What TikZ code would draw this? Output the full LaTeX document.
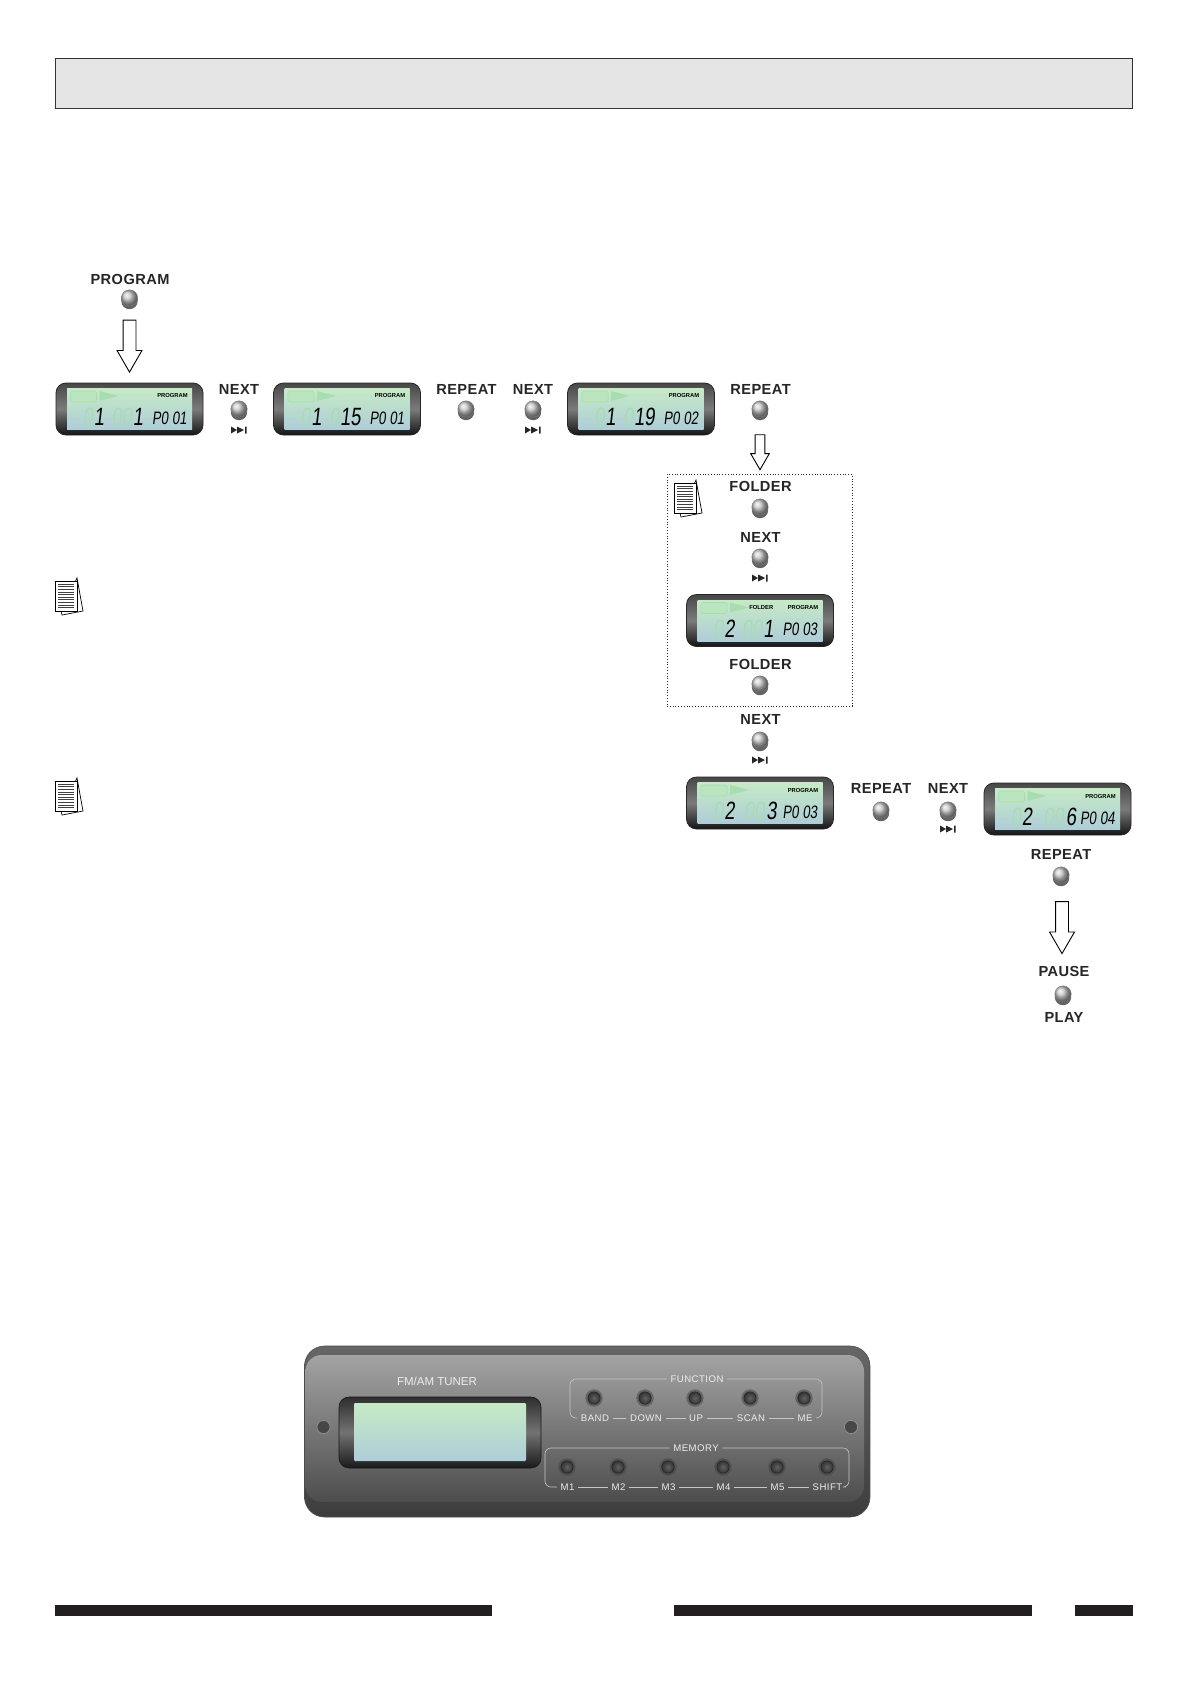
\documentclass[tikz,border=0pt]{standalone}
\usepackage{fontspec}
\setmainfont{Liberation Sans}
\newfontfamily\lblfont[LetterSpace=3]{Liberation Sans}
\newfontfamily\panelfont[LetterSpace=5]{Liberation Sans}
\newfontfamily\segfont[FakeStretch=0.74,FakeSlant=0.12]{Liberation Sans}
\usetikzlibrary{shapes.arrows,shadows}
\definecolor{barcol}{HTML}{231F20}
\definecolor{ghostcol}{HTML}{A8DDB0}
\definecolor{scrtop}{HTML}{C6EAC6}
\definecolor{scrbot}{HTML}{AECDD8}
\tikzset{
  lbl/.style={font=\lblfont\bfseries\fontsize{7.3}{8}\selectfont,text=black!85,inner sep=0pt},
  btn/.style={circle,minimum size=8.2pt,inner sep=0pt,ball color=black!22,draw=black!50,line width=.2pt,
    general shadow={shadow xshift=0pt,shadow yshift=-1.5pt,fill=black!62}},
  lcdbox/.style={rounded corners=5pt,minimum width=73.5pt,minimum height=26pt,inner sep=0pt,draw=black!85,line width=.4pt,
    top color=black!72,bottom color=black!92,middle color=black!52},
  lcdscr/.style={minimum width=62.5pt,minimum height=20.5pt,inner sep=0pt,top color=scrtop,bottom color=scrbot},
  seg/.style={font=\segfont\fontsize{12.5}{13}\selectfont,inner sep=0pt,anchor=east},
  ghost/.style={seg,text=ghostcol},
  segsmall/.style={font=\segfont\fontsize{9}{9}\selectfont,inner sep=0pt},
  tiny/.style={font=\bfseries\fontsize{2.9}{3}\selectfont,inner sep=0pt},
  bigarrow/.style={single arrow,shape border rotate=270,draw=black,fill=white,line width=.45pt,inner xsep=3pt,inner ysep=0pt,
    minimum width=12pt,single arrow head extend=3pt,single arrow tip angle=60},
  plabel/.style={font=\panelfont\fontsize{4.8}{5}\selectfont,text=white!93!black,inner sep=1.6pt},
  pline/.style={draw=white!78!black,line width=.3pt},
  pbtn/.style={circle,minimum size=6.2pt,inner sep=0pt,inner color=black!62,outer color=black!80,draw=black!85,line width=.3pt,
    general shadow={shadow xshift=0pt,shadow yshift=0pt,shadow scale=1.4,fill=black!75,opacity=.5}},
}
\begin{document}
\begin{tikzpicture}[x=.5pt,y=-.5pt]
\useasboundingbox (0,0) rectangle (1188,1685);
\fill[white] (0,0) rectangle (1188,1685);
% header and footer
\node[draw=black!80,fill=black!10,line width=.4pt,minimum width=538.5pt,minimum height=25pt,inner sep=0pt] (header) at (593.5,83) {};
\foreach \x/\xe in {55/491.5,674/1032,1075/1133} \fill[barcol] (\x,1605) rectangle (\xe,1616);
% displays
\foreach \n/\x/\y/\da/\db/\dr/\gh/\gx/\pg in {a/129.5/409/1/1/14/00/3/P0 01,b/347/409/1/15/14/0/-7/P0 01,c/641/409/1/19/14/0/-7/P0 02,
    d/760/620.5/2/1/14/00/3/P0 03,e/760/803/2/3/17/00/5/P0 03,f/1057.5/809/2/6/19/00/7/P0 04} {
  \begin{scope}[shift={(\x,\y)}]
    \node[lcdbox] (lcd\n) at (0,0) {};
    \node[lcdscr] (scr\n) at (0,0) {};
    \draw[ghostcol,rounded corners=1pt,line width=.3pt,fill=ghostcol!35!scrtop] (-59,-18) rectangle (-33,-7);
    \fill[ghostcol] (-30,-18)--(-11,-13)--(-30,-8)--cycle;
    \node[ghost] (ga\n) at (-36,8) {0};
    \node[ghost] (gb\n) at (\gx,8) {\gh};
    \node[seg] (da\n) at (-25,8) {\da};
    \node[seg] (db\n) at (\dr,8) {\db};
    \node[segsmall] (pg\n) at (40,9) {\pg};
    \node[tiny] (tp\n) at (43,-13) {PROGRAM};
  \end{scope}
}
\node[tiny] (tpfolder) at (761.3,607.5) {FOLDER};
% buttons
\foreach \n/\x/\y in {pgm/129.5/298,na/239/409,ra/466/409,nb/533/409,rb/760/409,fa/760/507,nc/760/557,fb/760/684,
    nd/760/740,rc/881/810,ne/948/810,rd/1061/875,pa/1063/994}
  \node[btn] (btn\n) at (\x,\y) {};
% captions
\foreach \n/\t/\x/\y in {pgm/PROGRAM/130/279,na/NEXT/239/389,ra/REPEAT/466.5/389,nb/NEXT/533/389,rb/REPEAT/760.5/389,
    fa/FOLDER/760.5/486,nc/NEXT/760.5/537,fb/FOLDER/760.5/664,nd/NEXT/760.5/719,rc/REPEAT/881/788,ne/NEXT/948/788,
    rd/REPEAT/1061/854,pa/PAUSE/1064/971,pb/PLAY/1064/1017}
  \node[lbl] (lbl\n) at (\x,\y) {\t};
% next symbols
\foreach \x/\y in {239/430,533/430,760/578,760/760,948/829} {
  \fill[black!85,shift={(\x,\y)}] (-8,-3.5)--(-8,3.5)--(-2,0)--cycle (-2,-3.5)--(-2,3.5)--(5,0)--cycle (6,-3.5) rectangle (7.5,3.5);
}
% arrows
\node[bigarrow,minimum height=26pt] (arra) at (129.5,340.5) {};
\node[bigarrow,minimum height=17.5pt,minimum width=8.5pt,inner xsep=2.2pt,single arrow head extend=2.2pt] (arrb) at (760,448) {};
\node[bigarrow,minimum height=26pt] (arrc) at (1062,922) {};
\node[draw=black!85,densely dotted,line width=.4pt,minimum width=92.5pt,minimum height=116pt,inner sep=0pt] (folderbox) at (759.5,590) {};
% notes
\foreach \x/\y in {55/578,55/778,674/480} {
  \begin{scope}[shift={(\x,\y)}]
    \draw[fill=white,line width=.35pt] (22,0)--(28,33)--(7,37)--(6,33)--cycle;
    \draw[fill=white,line width=.5pt] (0,3) rectangle (22,33);
    \foreach \l in {6,8.6,...,31} \draw[black!75,line width=.18pt] (3,\l)--(19,\l);
  \end{scope}
}
% tuner panel
\draw[black!70,line width=.3pt,rounded corners=10pt,top color=black!60,bottom color=black!76] (304.5,1346) rectangle (870,1517);
\shade[rounded corners=8pt,top color=black!36,bottom color=black!70] (305.5,1355) rectangle (864,1502);
\node[rounded corners=5pt,minimum width=101pt,minimum height=35.5pt,inner sep=0pt,draw=black!90,line width=.3pt,
  top color=black!82,bottom color=black!90,middle color=black!55] (tunerbox) at (440,1432.5) {};
\node[minimum width=86pt,minimum height=29pt,inner sep=0pt,rounded corners=.6pt,top color=scrtop,bottom color=scrbot] (tunerscr) at (440,1432) {};
\node[font=\fontsize{5.75}{6}\selectfont,text=white!93!black,inner sep=0pt] (tunerlbl) at (437,1381) {FM/AM TUNER};
\foreach \n/\x in {l/323.5,r/851}
  \node[circle,minimum size=6.6pt,inner sep=0pt,draw=white!58!black,line width=.35pt,fill=black!72] (screw\n) at (\x,1427) {};
\foreach \n/\t/\x in {ba/BAND/594,dn/DOWN/645,up/UP/695,sc/SCAN/750,me/ME/804} {
  \node[pbtn] (pb\n) at (\x,1398) {};
  \node[plabel] (pl\n) at (\x+1,1418) {\t};
}
\foreach \n/\t/\x in {ma/M1/567,mb/M2/618,mc/M3/668,md/M4/723,mf/M5/777,sh/SHIFT/827} {
  \node[pbtn] (pb\n) at (\x,1467) {};
  \node[plabel] (pl\n) at (\x+.5,1487) {\t};
}
\node[plabel] (plfunc) at (697,1379) {FUNCTION};
\node[plabel] (plmem) at (696,1448) {MEMORY};
\foreach \a/\b in {ba/dn,dn/up,up/sc,sc/me,ma/mb,mb/mc,mc/md,md/mf,mf/sh}
  \draw[pline] (pl\a.east)--(pl\b.west);
\draw[pline,rounded corners=3pt] (plfunc.west)-|(570,1418)--(plba.west);
\draw[pline,rounded corners=3pt] (plfunc.east)-|(822,1418)--(plme.east);
\draw[pline,rounded corners=3pt] (plmem.west)-|(545,1487)--(plma.west);
\draw[pline,rounded corners=3pt] (plmem.east)-|(849,1487)--(plsh.east);
\end{tikzpicture}
\end{document}
